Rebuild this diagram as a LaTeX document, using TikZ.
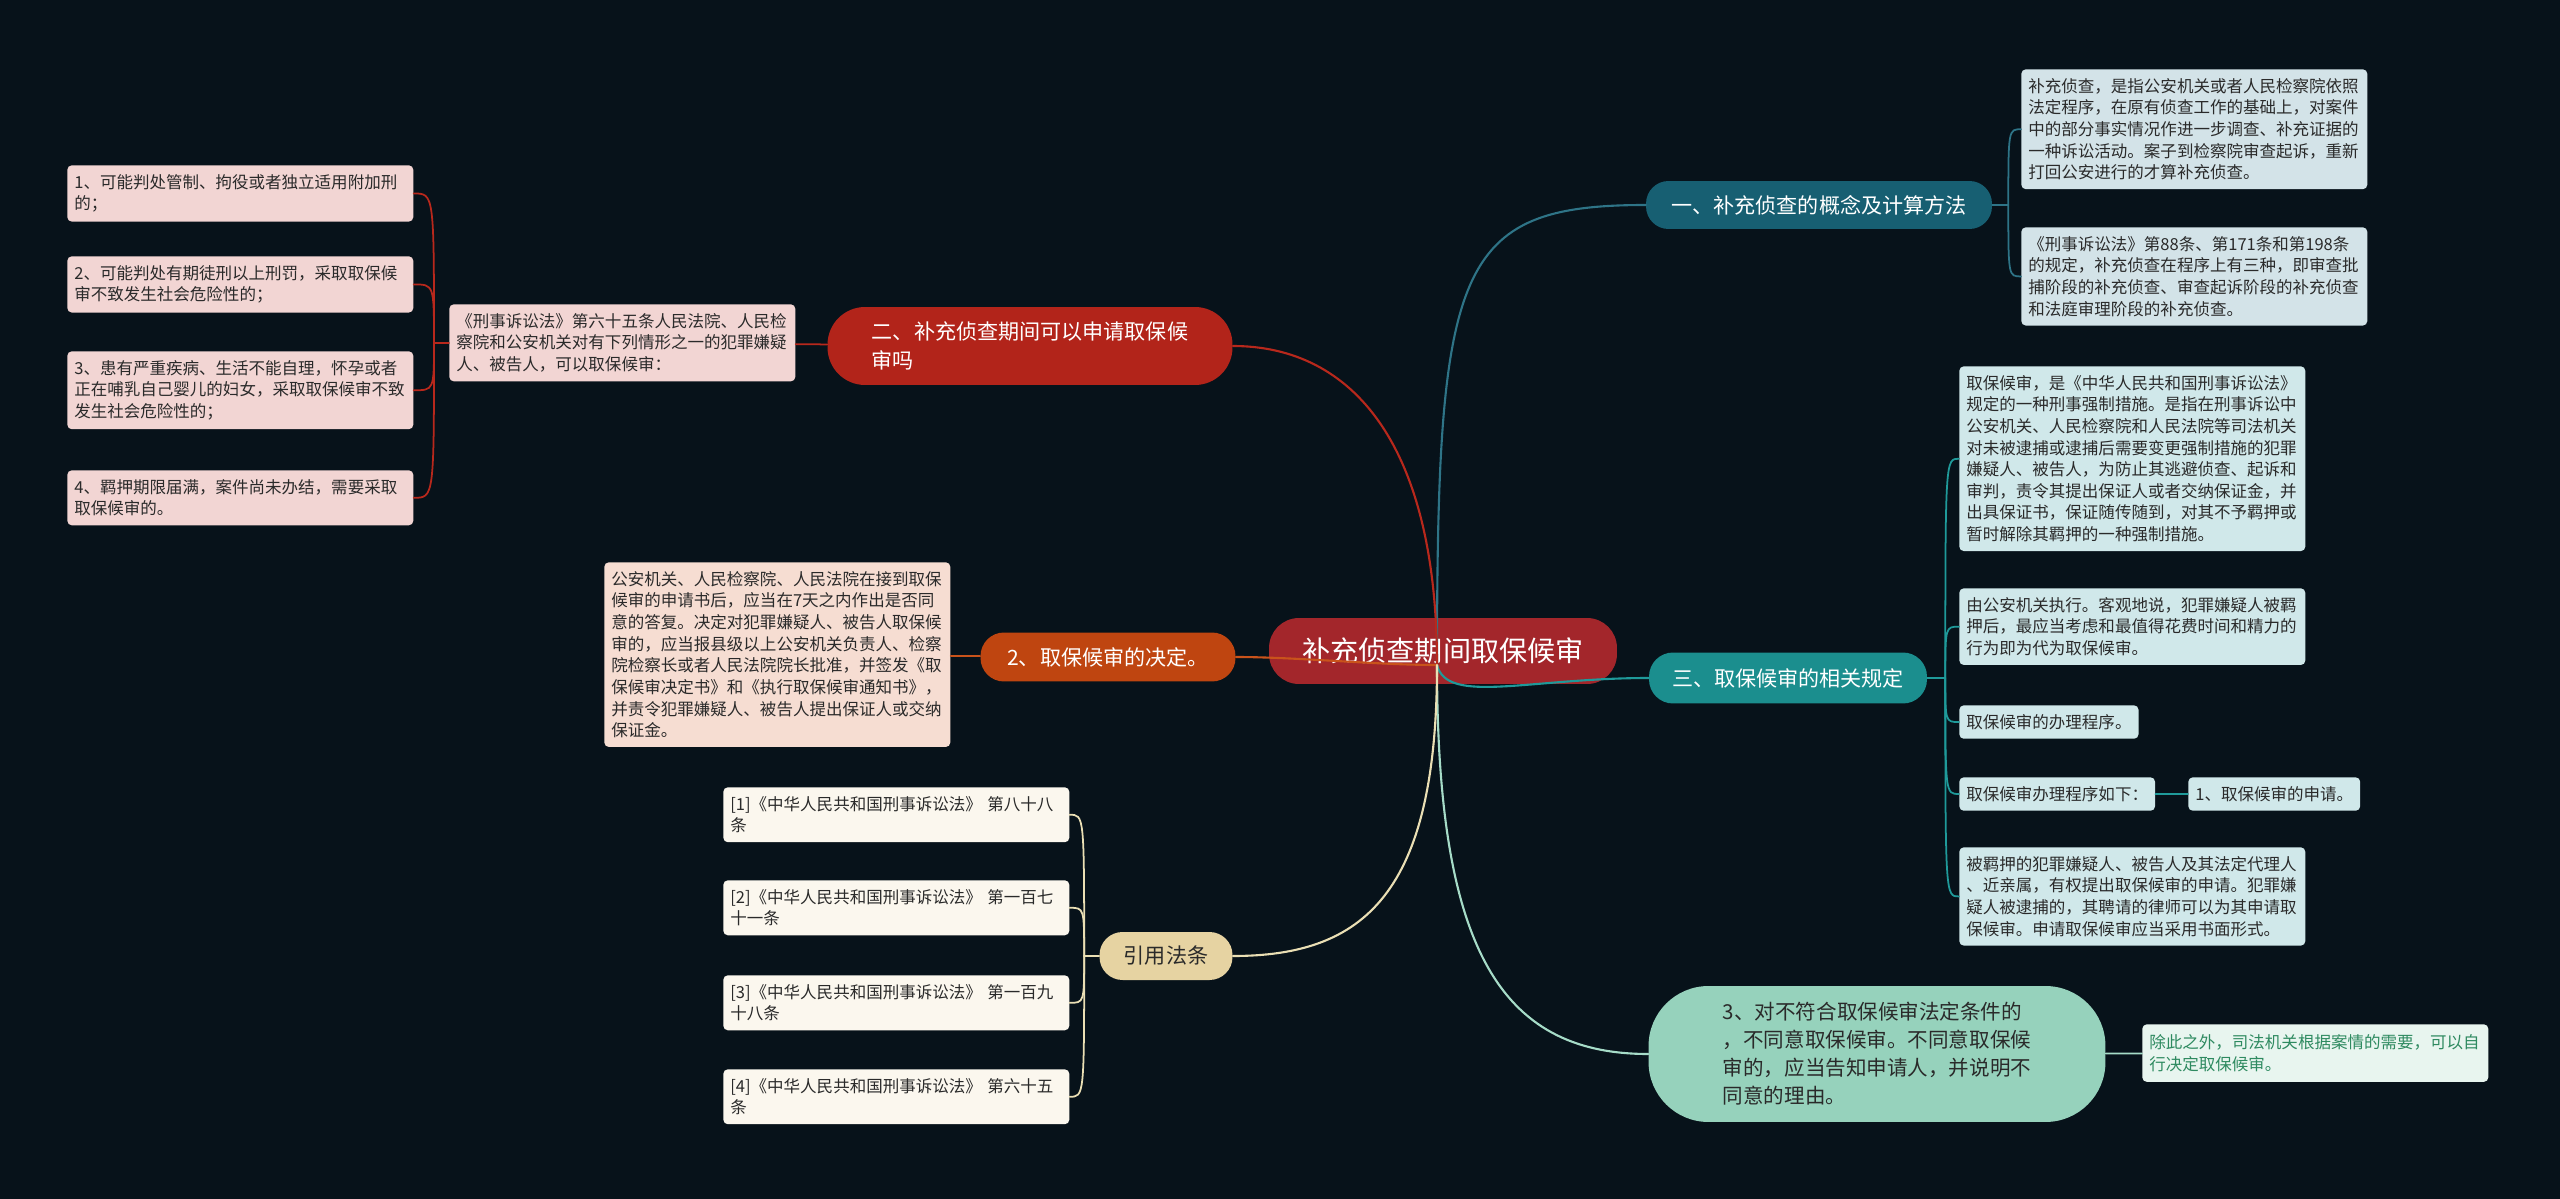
\documentclass[tikz,border=0pt]{standalone}
\usepackage{fontspec}
\setmainfont{Noto Sans CJK SC}
\usetikzlibrary{positioning,calc}
\definecolor{bg}{HTML}{07121A}
\definecolor{rootred}{HTML}{A3262B}
\definecolor{deepteal}{HTML}{175F72}
\definecolor{midteal}{HTML}{1B8E8E}
\definecolor{mint}{HTML}{96D2BC}
\definecolor{mintnote}{HTML}{E8F5EF}
\definecolor{minttext}{HTML}{2E8A60}
\definecolor{brick}{HTML}{B2241A}
\definecolor{rust}{HTML}{BF4510}
\definecolor{sand}{HTML}{E6D3A2}
\definecolor{greyblue}{HTML}{D3E3E8}
\definecolor{paleaqua}{HTML}{D0E8EA}
\definecolor{blush}{HTML}{F2D5D3}
\definecolor{peach}{HTML}{F6DDD2}
\definecolor{cream}{HTML}{FBF7EE}
\definecolor{leaftext}{HTML}{2A2A2A}
\definecolor{wireA}{HTML}{2E7487}
\definecolor{wireB}{HTML}{1F9A9A}
\definecolor{wireC}{HTML}{A6DCC8}
\definecolor{wireD}{HTML}{B8281C}
\definecolor{wireE}{HTML}{C9531B}
\definecolor{wireF}{HTML}{EADFB4}

\begin{document}
\begin{tikzpicture}[x=0.02cm,y=-0.02cm,line cap=round,
 leaf/.style={anchor=north west,rounded corners=2.5pt,inner xsep=0.14cm,inner ysep=0.18cm,
   align=left,text=leaftext,font=\fontsize{9.4}{12.3}\selectfont},
 wide/.style={text width=6.64cm},
 pill/.style={inner sep=0pt,align=left,text=white,font=\fontsize{12}{16.5}\selectfont},
 wire/.style={line width=1.2pt},
 twig/.style={line width=1pt}]
 \useasboundingbox (0,0) rectangle (2560,1199);
 \fill[bg] (0,0) rectangle (2560,1199);

 \node[fill=rootred,text=white,inner sep=0pt,minimum width=6.96cm,minimum height=1.32cm,
   rounded corners=0.6cm,font=\fontsize{16}{20}\selectfont] (root) at (1443,651) {补充侦查期间取保候审};

 \node[pill,fill=deepteal,minimum width=6.92cm,minimum height=0.96cm,rounded corners=0.45cm]
   (concept) at (1819,205) {一、补充侦查的概念及计算方法};
 \node[pill,fill=midteal,minimum width=5.56cm,minimum height=1.02cm,rounded corners=0.48cm]
   (bailrule) at (1788,678) {三、取保候审的相关规定};
 \node[pill,fill=mint,text=leaftext,minimum width=9.14cm,minimum height=2.72cm,rounded corners=1.2cm,
   font=\fontsize{11.7}{15.9}\selectfont] (refuse) at (1877,1054)
   {3、对不符合取保候审法定条件的\\，不同意取保候审。不同意取保候\\审的，应当告知申请人，并说明不\\同意的理由。};
 \node[pill,fill=brick,minimum width=8.1cm,minimum height=1.56cm,rounded corners=0.75cm]
   (period) at (1030,346) {二、补充侦查期间可以申请取保候\\审吗};
 \node[pill,fill=rust,minimum width=5.1cm,minimum height=0.98cm,rounded corners=0.47cm]
   (decide) at (1108,657) {2、取保候审的决定。};
 \node[pill,fill=sand,text=leaftext,minimum width=2.66cm,minimum height=0.96cm,rounded corners=0.46cm]
   (cite) at (1166,956) {引用法条};

 \node[leaf,wide,fill=greyblue] (concept1) at (2021,69)
   {补充侦查，是指公安机关或者人民检察院依照\\法定程序，在原有侦查工作的基础上，对案件\\中的部分事实情况作进一步调查、补充证据的\\一种诉讼活动。案子到检察院审查起诉，重新\\打回公安进行的才算补充侦查。};
 \node[leaf,wide,fill=greyblue] (concept2) at (2021,227)
   {《刑事诉讼法》第88条、第171条和第198条\\的规定，补充侦查在程序上有三种，即审查批\\捕阶段的补充侦查、审查起诉阶段的补充侦查\\和法庭审理阶段的补充侦查。};

 \node[leaf,wide,fill=paleaqua] (rule1) at (1959,366)
   {取保候审，是《中华人民共和国刑事诉讼法》\\规定的一种刑事强制措施。是指在刑事诉讼中\\公安机关、人民检察院和人民法院等司法机关\\对未被逮捕或逮捕后需要变更强制措施的犯罪\\嫌疑人、被告人，为防止其逃避侦查、起诉和\\审判，责令其提出保证人或者交纳保证金，并\\出具保证书，保证随传随到，对其不予羁押或\\暂时解除其羁押的一种强制措施。};
 \node[leaf,wide,fill=paleaqua] (rule2) at (1959,588)
   {由公安机关执行。客观地说，犯罪嫌疑人被羁\\押后，最应当考虑和最值得花费时间和精力的\\行为即为代为取保候审。};
 \node[leaf,fill=paleaqua] (rule3) at (1959,705) {取保候审的办理程序。};
 \node[leaf,fill=paleaqua] (rule4) at (1959,777) {取保候审办理程序如下：};
 \node[leaf,fill=paleaqua] (rule4a) at (2188,777) {1、取保候审的申请。};
 \node[leaf,wide,fill=paleaqua] (rule5) at (1959,847)
   {被羁押的犯罪嫌疑人、被告人及其法定代理人\\、近亲属，有权提出取保候审的申请。犯罪嫌\\疑人被逮捕的，其聘请的律师可以为其申请取\\保候审。申请取保候审应当采用书面形式。};

 \node[leaf,wide,fill=mintnote,text=minttext,inner ysep=0.2cm,font=\fontsize{9.4}{12.6}\selectfont] (refuseNote) at (2142,1024)
   {除此之外，司法机关根据案情的需要，可以自\\行决定取保候审。};

 \node[leaf,wide,fill=blush] (periodLaw) at (449,304)
   {《刑事诉讼法》第六十五条人民法院、人民检\\察院和公安机关对有下列情形之一的犯罪嫌疑\\人、被告人，可以取保候审：};
 \node[leaf,wide,fill=blush] (case1) at (67,165) {1、可能判处管制、拘役或者独立适用附加刑\\的；};
 \node[leaf,wide,fill=blush] (case2) at (67,256) {2、可能判处有期徒刑以上刑罚，采取取保候\\审不致发生社会危险性的；};
 \node[leaf,wide,fill=blush] (case3) at (67,351) {3、患有严重疾病、生活不能自理，怀孕或者\\正在哺乳自己婴儿的妇女，采取取保候审不致\\发生社会危险性的；};
 \node[leaf,wide,fill=blush] (case4) at (67,470) {4、羁押期限届满，案件尚未办结，需要采取\\取保候审的。};

 \node[leaf,wide,fill=peach] (decideNote) at (604,562)
   {公安机关、人民检察院、人民法院在接到取保\\候审的申请书后，应当在7天之内作出是否同\\意的答复。决定对犯罪嫌疑人、被告人取保候\\审的，应当报县级以上公安机关负责人、检察\\院检察长或者人民法院院长批准，并签发《取\\保候审决定书》和《执行取保候审通知书》，\\并责令犯罪嫌疑人、被告人提出保证人或交纳\\保证金。};

 \node[leaf,wide,fill=cream] (cite1) at (723,787) {[1]《中华人民共和国刑事诉讼法》 第八十八\\条};
 \node[leaf,wide,fill=cream] (cite2) at (723,880) {[2]《中华人民共和国刑事诉讼法》 第一百七\\十一条};
 \node[leaf,wide,fill=cream] (cite3) at (723,975) {[3]《中华人民共和国刑事诉讼法》 第一百九\\十八条};
 \node[leaf,wide,fill=cream] (cite4) at (723,1069) {[4]《中华人民共和国刑事诉讼法》 第六十五\\条};

 \coordinate (hub) at (1437,665);
 \draw[wire,wireA] (hub) .. controls +(0,-400) and +(-190,0) .. (concept.west);
 \draw[wire,wireB] (hub) .. controls +(10,40) and +(-120,0) .. (bailrule.west);
 \draw[wire,wireC] (hub) .. controls +(0,280) and +(-150,0) .. (refuse.west);
 \draw[wire,wireD] (hub) .. controls +(0,-220) and +(120,0) .. (period.east);
 \draw[wire,wireE] (hub) .. controls +(-60,0) and +(60,0) .. (decide.east);
 \draw[wire,wireF] (hub) .. controls +(0,230) and +(130,0) .. (cite.east);

 \draw[twig,wireA] (concept.east) -- ++(16,0) coordinate (jA);
 \foreach \n in {concept1,concept2}
   \draw[twig,wireA] (jA) .. controls (jA |- \n.west) .. (\n.west);
 \draw[twig,wireB] (bailrule.east) -- ++(18,0) coordinate (jB);
 \foreach \n in {rule1,rule2,rule3,rule4,rule5}
   \draw[twig,wireB] (jB) .. controls (jB |- \n.west) .. (\n.west);
 \draw[twig,wireB] (rule4) -- (rule4a);
 \draw[twig,wireC] (refuse) -- (refuseNote);
 \draw[twig,wireD] (period) -- (periodLaw);
 \draw[twig,wireD] (periodLaw.west) -- ++(-15,0) coordinate (jD);
 \foreach \n in {case1,case2,case3,case4}
   \draw[twig,wireD] (jD) .. controls (jD |- \n.east) .. (\n.east);
 \draw[twig,wireE] (decide) -- (decideNote);
 \draw[twig,wireF] (cite.west) -- ++(-15,0) coordinate (jF);
 \foreach \n in {cite1,cite2,cite3,cite4}
   \draw[twig,wireF] (jF) .. controls (jF |- \n.east) .. (\n.east);
\end{tikzpicture}
\end{document}
